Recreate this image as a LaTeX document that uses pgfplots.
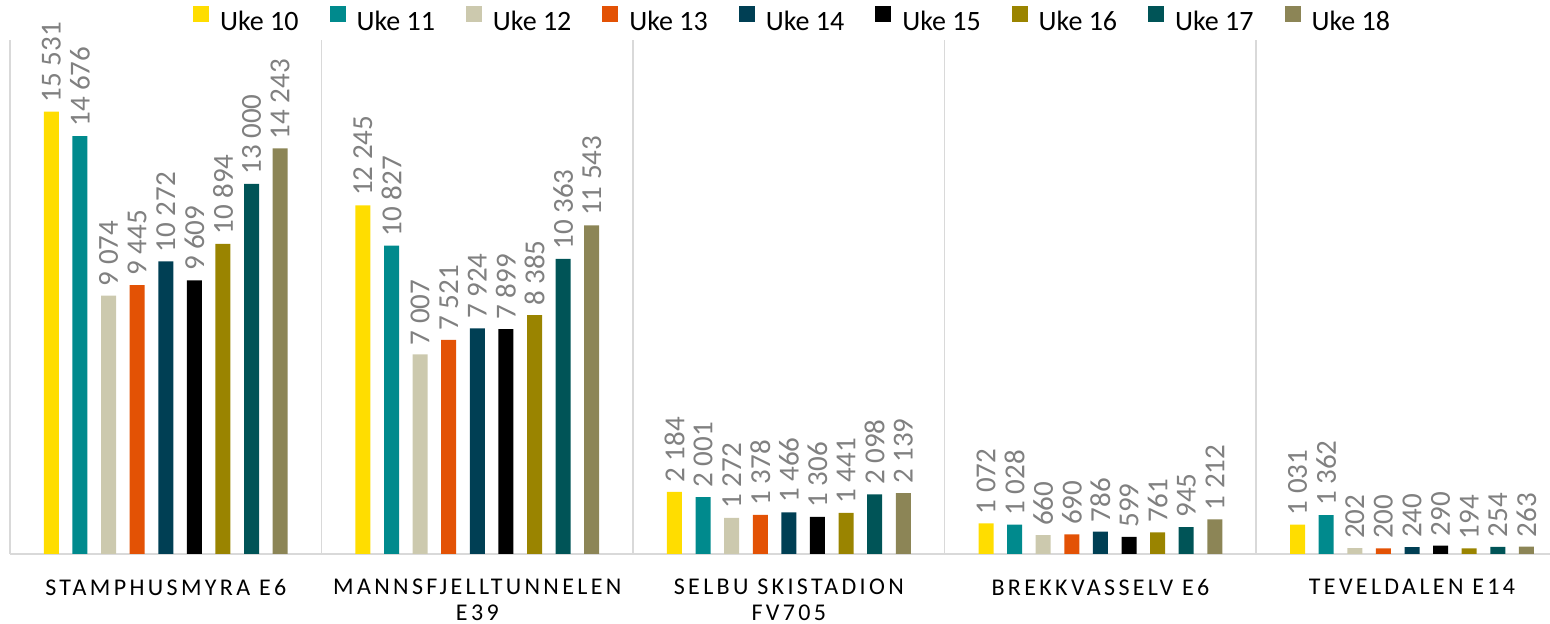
\documentclass[border=0pt]{standalone}
\usepackage{fontspec}
\setmainfont{Carlito}
\usepackage{pgfplots}
\pgfplotsset{compat=1.18}

\definecolor{c10}{HTML}{FFDD00}
\definecolor{c11}{HTML}{008A8D}
\definecolor{c12}{HTML}{CCC9AE}
\definecolor{c13}{HTML}{E35205}
\definecolor{c14}{HTML}{003F54}
\definecolor{c15}{HTML}{000000}
\definecolor{c16}{HTML}{9A8400}
\definecolor{c17}{HTML}{005457}
\definecolor{c18}{HTML}{8C8556}
\definecolor{gridgray}{HTML}{D9D9D9}
\definecolor{labelgray}{HTML}{808080}

\begin{document}
\begin{tikzpicture}
\begin{axis}[
  scale only axis,
  width=770pt, height=257pt,
  xmin=-0.5, xmax=4.443,
  ymin=0, ymax=18050,
  ybar=6.8pt, bar width=7.5pt,
  axis x line*=bottom, axis y line=none,
  x axis line style={draw=gridgray, line width=0.75pt, -},
  ytick=\empty,
  xtick={-0.5,0.5,1.5,2.5,3.5},
  xticklabels={},
  xmajorgrids,
  x grid style={gridgray, line width=0.75pt},
  major tick length=0pt,
  extra x ticks={0,1,2,3,4},
  extra x tick labels={STAMPHUSMYRA E6, MANNSFJELLTUNNELEN\\E39, SELBU SKISTADION\\FV705, BREKKVASSELV E6, TEVELDALEN E14},
  extra x tick style={grid=none, major tick length=0pt},
  xticklabel style={align=center, anchor=north, inner sep=0pt, yshift=-12.5pt,
    font=\addfontfeature{LetterSpace=14}\fontsize{12}{12.6}\selectfont, text=black},
  nodes near coords,
  nodes near coords style={rotate=90, anchor=west, inner xsep=4.5pt, inner ysep=0pt,
    font=\fontsize{14.5}{14.5}\selectfont, text=labelgray},
  /pgf/number format/1000 sep={\ },
  /pgf/number format/assume math mode=true,
  legend columns=9,
  legend style={draw=none, fill=none, at={(0.5088,1.035)}, anchor=center,
    font=\fontsize{14}{16}\selectfont,
    /tikz/every odd column/.append style={column sep=3.5pt},
    /tikz/every even column/.append style={column sep=13.5pt}},
  legend image code/.code={\fill[#1] (0pt,0pt) rectangle (8pt,8pt);},
]
\addplot[fill=c10, draw=none] coordinates {(0,15531) (1,12245) (2,2184) (3,1072) (4,1031)};
\addlegendentry{Uke 10}
\addplot[fill=c11, draw=none] coordinates {(0,14676) (1,10827) (2,2001) (3,1028) (4,1362)};
\addlegendentry{Uke 11}
\addplot[fill=c12, draw=none] coordinates {(0,9074) (1,7007) (2,1272) (3,660) (4,202)};
\addlegendentry{Uke 12}
\addplot[fill=c13, draw=none] coordinates {(0,9445) (1,7521) (2,1378) (3,690) (4,200)};
\addlegendentry{Uke 13}
\addplot[fill=c14, draw=none] coordinates {(0,10272) (1,7924) (2,1466) (3,786) (4,240)};
\addlegendentry{Uke 14}
\addplot[fill=c15, draw=none] coordinates {(0,9609) (1,7899) (2,1306) (3,599) (4,290)};
\addlegendentry{Uke 15}
\addplot[fill=c16, draw=none] coordinates {(0,10894) (1,8385) (2,1441) (3,761) (4,194)};
\addlegendentry{Uke 16}
\addplot[fill=c17, draw=none] coordinates {(0,13000) (1,10363) (2,2098) (3,945) (4,254)};
\addlegendentry{Uke 17}
\addplot[fill=c18, draw=none] coordinates {(0,14243) (1,11543) (2,2139) (3,1212) (4,263)};
\addlegendentry{Uke 18}
\end{axis}
\pgfresetboundingbox
\path[use as bounding box] (current axis.south west) ++(-5pt,-35pt) rectangle ++(775pt,312pt);
\end{tikzpicture}
\end{document}
